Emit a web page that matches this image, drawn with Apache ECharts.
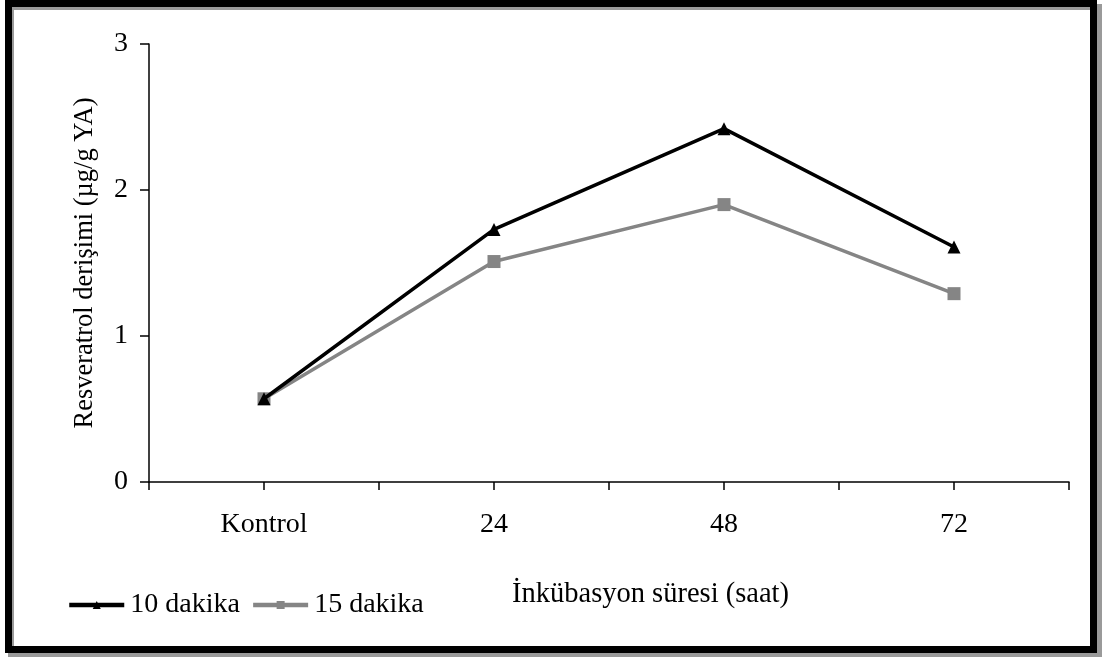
<!DOCTYPE html>
<html>
<head>
<meta charset="utf-8">
<script src="https://cdn.jsdelivr.net/npm/echarts@6/dist/echarts.min.js"></script>
<style>
html,body{margin:0;padding:0;background:#fff;}
#c{width:1102px;height:657px;}
</style>
</head>
<body>
<div id="c"></div>
<script>
const categories = ['Kontrol', '24', '48', '72'];
const series10 = [0.57, 1.73, 2.42, 1.61];
const series15 = [0.57, 1.51, 1.90, 1.29];
const seriesNames = ['10 dakika', '15 dakika'];
const yTicks = [0, 1, 2, 3];

const FONT = "'Liberation Serif', 'Times New Roman', serif";
const chart = echarts.init(document.getElementById('c'));
const toPts = arr => arr.map((v, i) => [2 * i + 1, v]);

chart.setOption({
  animation: false,
  backgroundColor: '#fff',
  textStyle: { fontFamily: FONT, color: '#000' },
  grid: { left: 149, right: 33, top: 44, bottom: 175, containLabel: false },
  xAxis: {
    type: 'value', min: 0, max: 2 * categories.length, interval: 1,
    splitLine: { show: false },
    axisLine: { show: true, lineStyle: { color: '#000', width: 1.5 } },
    axisTick: { show: true, length: 8, inside: false, lineStyle: { color: '#000', width: 1.5 } },
    axisLabel: {
      margin: 29, fontFamily: FONT, fontSize: 28, color: '#000',
      showMinLabel: true, showMaxLabel: true,
      formatter: v => (v % 2 === 1 ? categories[(v - 1) / 2] : '')
    }
  },
  yAxis: {
    type: 'value', min: yTicks[0], max: yTicks[yTicks.length - 1], interval: 1,
    name: 'Resveratrol derişimi (µg/g YA)', nameLocation: 'middle', nameGap: 50,
    nameTextStyle: { fontFamily: FONT, fontSize: 26.5, color: '#000' },
    splitLine: { show: false },
    axisLine: { show: true, lineStyle: { color: '#000', width: 1.5 } },
    axisTick: { show: true, length: 9, lineStyle: { color: '#000', width: 1.5 } },
    axisLabel: { margin: 21, fontFamily: FONT, fontSize: 28, color: '#000' }
  },
  legend: {
    left: 62, top: 586, itemWidth: 55, itemHeight: 10, itemGap: 11,
    lineStyle: { width: 4.5 },
    textStyle: { fontFamily: FONT, fontSize: 28, color: '#000', padding: [0, 0, 0, 1] },
    data: seriesNames
  },
  graphic: [
    { type: 'rect', z: -2, shape: { x: 11, y: 7, width: 1088, height: 648 },
      style: { fill: 'none', stroke: '#9a9a9a', lineWidth: 6 } },
    { type: 'rect', z: -1, shape: { x: 8.5, y: 3.5, width: 1085, height: 646 },
      style: { fill: 'none', stroke: '#000', lineWidth: 7 } },
    { type: 'text', left: 512, top: 580,
      style: { text: 'İnkübasyon süresi (saat)', fontSize: 28.5, fontFamily: FONT, fill: '#000' } }
  ],
  series: [
    {
      name: seriesNames[0], type: 'line', data: toPts(series10),
      symbol: 'triangle', symbolSize: 13,
      lineStyle: { color: '#000', width: 3.5 },
      itemStyle: { color: '#000' }, z: 3
    },
    {
      name: seriesNames[1], type: 'line', data: toPts(series15),
      symbol: 'rect', symbolSize: 13,
      lineStyle: { color: '#858585', width: 3.5 },
      itemStyle: { color: '#858585' }, z: 2
    }
  ]
});
</script>
</body>
</html>
